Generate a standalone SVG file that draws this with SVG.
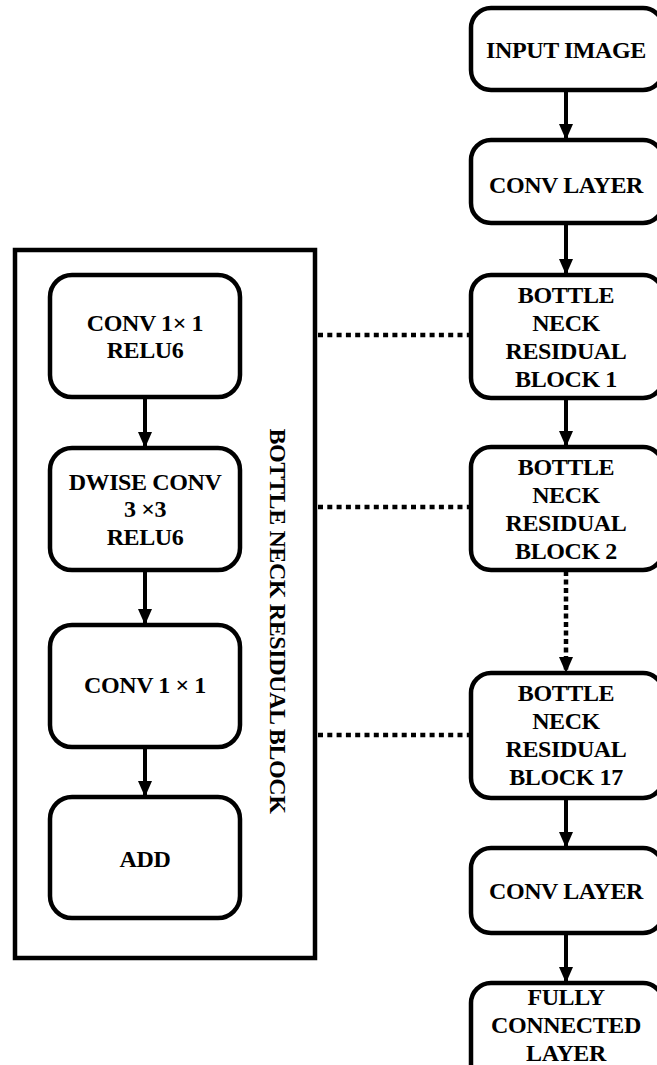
<svg xmlns="http://www.w3.org/2000/svg" width="657" height="1065" viewBox="0 0 657 1065">
<style>
.box{fill:#fff;stroke:#000;stroke-width:4.5}
.t{font-family:"Liberation Serif","Times New Roman",serif;font-weight:bold;font-size:24px;letter-spacing:-0.4px;fill:#000;text-anchor:middle}
.ln{stroke:#000;stroke-width:4;fill:none}
.dot{stroke:#000;stroke-width:4.5;fill:none;stroke-dasharray:5 4.3}
.dotv{stroke:#000;stroke-width:4.5;fill:none;stroke-dasharray:5 3.5}
</style>
<defs>
<marker id="ah" markerUnits="userSpaceOnUse" markerWidth="16" markerHeight="14" refX="16" refY="7" orient="auto">
<path d="M0,0 L16,7 L0,14 Z" fill="#000"/>
</marker>
</defs>
<rect width="657" height="1065" fill="#fff"/>
<g id="outer-block">
<rect x="15" y="250" width="300" height="708" fill="none" stroke="#000" stroke-width="4.5"/>
<text class="t" transform="translate(270,621) rotate(90)">BOTTLE NECK RESIDUAL BLOCK</text>
</g>
<g id="connectors">
<line class="ln" x1="566" y1="90" x2="566" y2="140" marker-end="url(#ah)"/>
<line class="ln" x1="566" y1="223" x2="566" y2="275" marker-end="url(#ah)"/>
<line class="ln" x1="566" y1="398" x2="566" y2="447" marker-end="url(#ah)"/>
<line class="dotv" x1="566" y1="571" x2="566" y2="673" marker-end="url(#ah)"/>
<line class="ln" x1="566" y1="798" x2="566" y2="848" marker-end="url(#ah)"/>
<line class="ln" x1="566" y1="933" x2="566" y2="983" marker-end="url(#ah)"/>
<line class="ln" x1="145" y1="397" x2="145" y2="448" marker-end="url(#ah)"/>
<line class="ln" x1="145" y1="570" x2="145" y2="625" marker-end="url(#ah)"/>
<line class="ln" x1="145" y1="747" x2="145" y2="797" marker-end="url(#ah)"/>
<line class="dot" x1="318" y1="335" x2="471" y2="335"/>
<line class="dot" x1="318" y1="507" x2="471" y2="507"/>
<line class="dot" x1="318" y1="735" x2="471" y2="735"/>
</g>
<g id="input-image">
<rect class="box" x="471" y="8" width="192" height="82" rx="20"/>
<text class="t" x="566" y="58">INPUT IMAGE</text>
</g>
<g id="conv-layer-1">
<rect class="box" x="471" y="140" width="192" height="83" rx="20"/>
<text class="t" x="566" y="193">CONV LAYER</text>
</g>
<g id="bn1">
<rect class="box" x="471" y="275" width="192" height="123" rx="20"/>
<text class="t" x="566" y="303">BOTTLE</text>
<text class="t" x="566" y="331">NECK</text>
<text class="t" x="566" y="359">RESIDUAL</text>
<text class="t" x="566" y="387">BLOCK 1</text>
</g>
<g id="bn2">
<rect class="box" x="471" y="447" width="192" height="123" rx="20"/>
<text class="t" x="566" y="475">BOTTLE</text>
<text class="t" x="566" y="503">NECK</text>
<text class="t" x="566" y="531">RESIDUAL</text>
<text class="t" x="566" y="559">BLOCK 2</text>
</g>
<g id="bn17">
<rect class="box" x="471" y="673" width="192" height="125" rx="20"/>
<text class="t" x="566" y="701">BOTTLE</text>
<text class="t" x="566" y="729">NECK</text>
<text class="t" x="566" y="757">RESIDUAL</text>
<text class="t" x="566" y="785">BLOCK 17</text>
</g>
<g id="conv-layer-2">
<rect class="box" x="471" y="848" width="192" height="85" rx="20"/>
<text class="t" x="566" y="899">CONV LAYER</text>
</g>
<g id="fully-connected">
<rect class="box" x="471" y="983" width="192" height="110" rx="20"/>
<text class="t" x="566" y="1005">FULLY</text>
<text class="t" x="566" y="1033">CONNECTED</text>
<text class="t" x="566" y="1061">LAYER</text>
</g>
<g id="conv1x1-relu6">
<rect class="box" x="50" y="275" width="190" height="122" rx="22"/>
<text class="t" x="145" y="331">CONV 1× 1</text>
<text class="t" x="145" y="358">RELU6</text>
</g>
<g id="dwise-conv">
<rect class="box" x="50" y="448" width="190" height="122" rx="22"/>
<text class="t" x="145" y="490">DWISE CONV</text>
<text class="t" x="145" y="517">3 ×3</text>
<text class="t" x="145" y="545">RELU6</text>
</g>
<g id="conv1x1">
<rect class="box" x="50" y="625" width="190" height="122" rx="22"/>
<text class="t" x="145" y="693">CONV 1 × 1</text>
</g>
<g id="add">
<rect class="box" x="50" y="797" width="190" height="121" rx="22"/>
<text class="t" x="145" y="867">ADD</text>
</g>
</svg>
